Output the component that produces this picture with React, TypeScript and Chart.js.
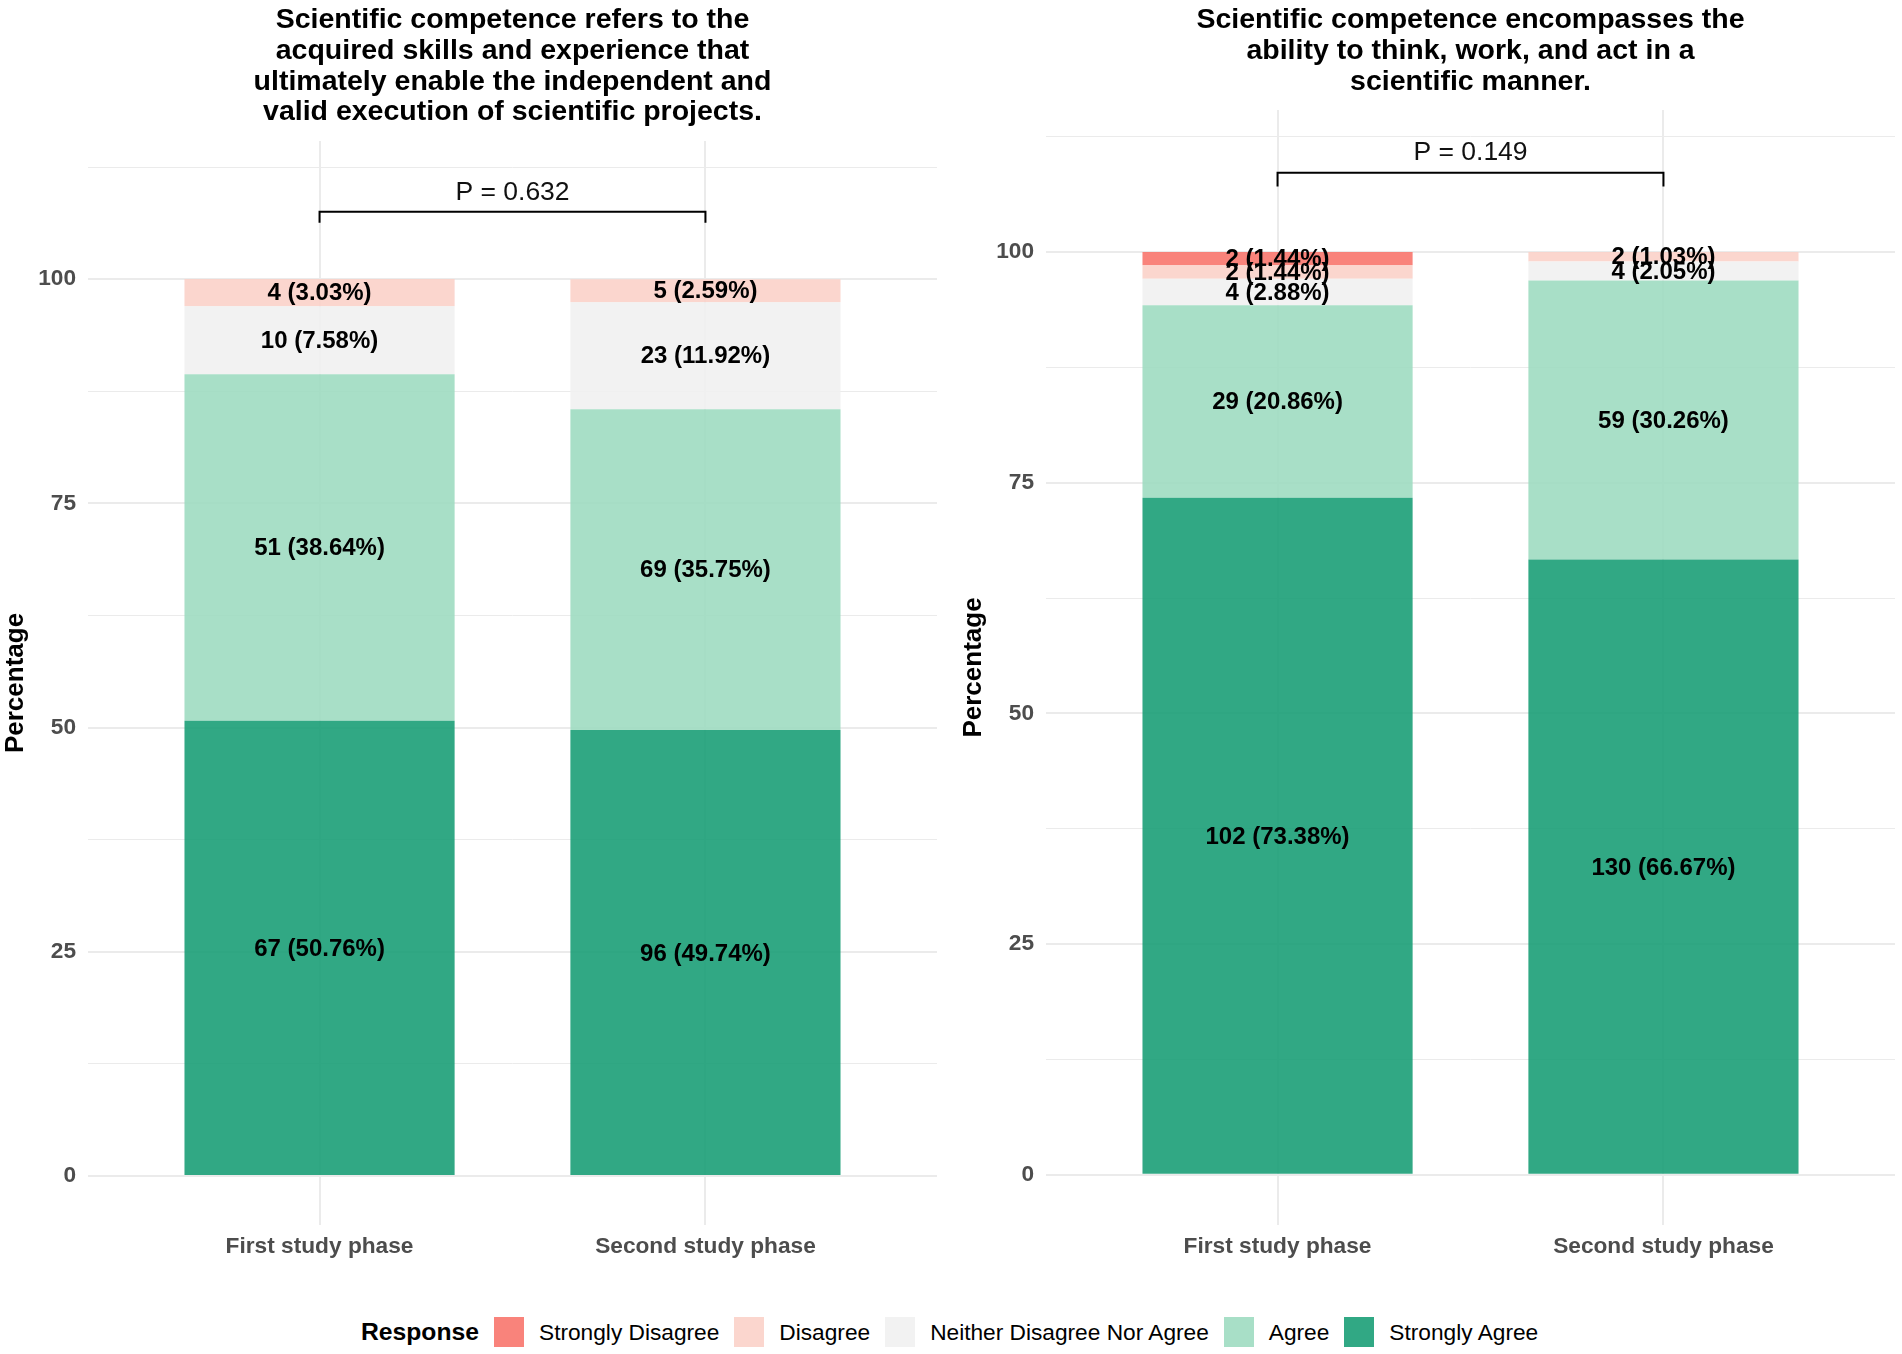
import React, { useEffect, useRef } from "react";
import { Chart, registerables } from "chart.js";

Chart.register(...registerables);

// ---------- data ----------
const categories = ["First study phase", "Second study phase"];
const responses = [
  "Strongly Disagree",
  "Disagree",
  "Neither Disagree Nor Agree",
  "Agree",
  "Strongly Agree",
];
const responseColors = [
  "rgba(248,118,109,0.9)",
  "rgba(251,209,201,0.9)",
  "rgba(241,241,241,0.9)",
  "rgba(159,219,193,0.9)",
  "rgba(27,158,119,0.9)",
];

const leftTitle = [
  "Scientific competence refers to the",
  "acquired skills and experience that",
  "ultimately enable the independent and",
  "valid execution of scientific projects.",
];
const leftPValue = "P = 0.632";
const leftSDCount = [0, 0];
const leftSDPct = [0, 0];
const leftDCount = [4, 5];
const leftDPct = [3.03, 2.59];
const leftNCount = [10, 23];
const leftNPct = [7.58, 11.92];
const leftACount = [51, 69];
const leftAPct = [38.64, 35.75];
const leftSACount = [67, 96];
const leftSAPct = [50.76, 49.74];

const rightTitle = [
  "Scientific competence encompasses the",
  "ability to think, work, and act in a",
  "scientific manner.",
];
const rightPValue = "P = 0.149";
const rightSDCount = [2, 0];
const rightSDPct = [1.44, 0];
const rightDCount = [2, 2];
const rightDPct = [1.44, 1.03];
const rightNCount = [4, 4];
const rightNPct = [2.88, 2.05];
const rightACount = [29, 59];
const rightAPct = [20.86, 30.26];
const rightSACount = [102, 130];
const rightSAPct = [73.38, 66.67];

const yTickValues = [0, 12.5, 25, 37.5, 50, 62.5, 75, 87.5, 100, 112.5];

// ---------- styling ----------
const FONT = '"Liberation Sans", Arial, Helvetica, sans-serif';
const CANVAS_W = 951;
const CANVAS_H = 1290;

type Panel = {
  title: string[];
  pValue: string;
  counts: number[][]; // order: SD, D, N, A, SA
  pcts: number[][];
  padTop: number;
  padLeft: number;
  padRight: number;
  bracketY: number;
  tipY: number;
  pTextY: number;
};

const leftPanel: Panel = {
  title: leftTitle,
  pValue: leftPValue,
  counts: [leftSDCount, leftDCount, leftNCount, leftACount, leftSACount],
  pcts: [leftSDPct, leftDPct, leftNPct, leftAPct, leftSAPct],
  padTop: 139,
  padLeft: 0,
  padRight: 14,
  bracketY: 107.5,
  tipY: 106.3,
  pTextY: 109.6,
};

const rightPanel: Panel = {
  title: rightTitle,
  pValue: rightPValue,
  counts: [rightSDCount, rightDCount, rightNCount, rightACount, rightSACount],
  pcts: [rightSDPct, rightDPct, rightNPct, rightAPct, rightSAPct],
  padTop: 108,
  padLeft: 7,
  padRight: 7,
  bracketY: 108.6,
  tipY: 107.1,
  pTextY: 110.8,
};

function makeOverlay(panel: Panel) {
  return {
    id: "overlay",
    afterDatasetsDraw(chart: any) {
      const ctx = chart.ctx;
      const xs = chart.scales.x;
      const ys = chart.scales.y;
      const area = chart.chartArea;
      ctx.save();
      // title
      ctx.fillStyle = "#000";
      ctx.textAlign = "center";
      ctx.textBaseline = "middle";
      ctx.font = `bold 28.5px ${FONT}`;
      const cx = (area.left + area.right) / 2;
      panel.title.forEach((line, i) => {
        ctx.fillText(line, cx, 18.5 + i * 30.6);
      });
      // bar labels (stacked bottom -> top: SA, A, N, D, SD)
      ctx.font = `bold 24px ${FONT}`;
      for (let c = 0; c < categories.length; c++) {
        let cum = 0;
        for (let r = responses.length - 1; r >= 0; r--) {
          const v = panel.pcts[r][c];
          const n = panel.counts[r][c];
          if (n > 0) {
            const y = ys.getPixelForValue(cum + v / 2);
            const x = xs.getPixelForValue(c + 1);
            ctx.fillText(`${n} (${v.toFixed(2)}%)`, x, y + 1);
          }
          cum += v;
        }
      }
      // significance bracket
      const x1 = xs.getPixelForValue(1);
      const x2 = xs.getPixelForValue(2);
      const yb = ys.getPixelForValue(panel.bracketY);
      const yt = ys.getPixelForValue(panel.tipY);
      ctx.strokeStyle = "#000";
      ctx.lineWidth = 2;
      ctx.beginPath();
      ctx.moveTo(x1, yt);
      ctx.lineTo(x1, yb);
      ctx.lineTo(x2, yb);
      ctx.lineTo(x2, yt);
      ctx.stroke();
      ctx.font = `26.5px ${FONT}`;
      ctx.fillStyle = "#111";
      ctx.fillText(panel.pValue, (x1 + x2) / 2, ys.getPixelForValue(panel.pTextY));
      ctx.restore();
    },
  };
}

function PanelChart({ panel }: { panel: Panel }) {
  const ref = useRef<HTMLCanvasElement | null>(null);
  useEffect(() => {
    if (!ref.current) return;
    const order = [4, 3, 2, 1, 0]; // bottom to top
    const chart = new Chart(ref.current, {
      type: "bar",
      data: {
        datasets: order.map((r) => ({
          label: responses[r],
          data: panel.pcts[r].map((v, i) => ({ x: i + 1, y: v })),
          backgroundColor: responseColors[r],
          borderWidth: 0,
          barPercentage: 0.7,
          categoryPercentage: 1,
        })),
      },
      options: {
        responsive: false,
        maintainAspectRatio: false,
        animation: false,
        devicePixelRatio: 1,
        layout: {
          padding: {
            top: panel.padTop,
            left: panel.padLeft,
            right: panel.padRight,
            bottom: 17,
          },
        },
        plugins: {
          legend: { display: false },
          tooltip: { enabled: false },
          title: { display: false },
        },
        scales: {
          x: {
            type: "linear",
            min: 0.4,
            max: 2.6,
            stacked: true,
            offset: false,
            afterBuildTicks: (s: any) => {
              s.ticks = categories.map((_, i) => ({ value: i + 1 }));
            },
            afterFit: (s: any) => {
              s.height = 50;
            },
            grid: {
              color: "#EBEBEB",
              lineWidth: 2,
              drawTicks: false,
              offset: false,
            },
            border: { display: false },
            ticks: {
              autoSkip: false,
              maxRotation: 0,
              padding: 8,
              color: "#4D4D4D",
              font: { family: FONT, size: 22.7, weight: "bold" },
              callback: (v: any) => categories[Number(v) - 1] ?? "",
            },
          },
          y: {
            type: "linear",
            min: -5.45,
            max: 115.4,
            stacked: true,
            afterBuildTicks: (s: any) => {
              s.ticks = yTickValues.map((v) => ({ value: v }));
            },
            afterFit: (s: any) => {
              s.width = 88;
            },
            grid: {
              color: "#EBEBEB",
              drawTicks: false,
              lineWidth: (ctx: any) =>
                ctx.tick && ctx.tick.value % 25 === 0 ? 2 : 1,
            },
            border: { display: false },
            ticks: {
              autoSkip: false,
              padding: 12,
              color: "#4D4D4D",
              font: { family: FONT, size: 22.7, weight: "bold" },
              callback: (v: any) => (Number(v) % 25 === 0 ? String(v) : ""),
            },
            title: {
              display: true,
              text: "Percentage",
              color: "#000",
              font: { family: FONT, size: 26, weight: "bold" },
              padding: { top: 0, bottom: 0 },
            },
          },
        },
      } as any,
      plugins: [makeOverlay(panel)],
    });
    return () => chart.destroy();
  }, [panel]);
  return (
    <canvas
      ref={ref}
      width={CANVAS_W}
      height={CANVAS_H}
      style={{ width: CANVAS_W, height: CANVAS_H, display: "block" }}
    />
  );
}

function Legend() {
  return (
    <div
      style={{
        position: "absolute",
        left: 361,
        top: 1317,
        height: 30,
        display: "flex",
        alignItems: "center",
        fontFamily: FONT,
        color: "#000",
        whiteSpace: "nowrap",
      }}
    >
      <span style={{ fontWeight: "bold", fontSize: 24.7 }}>Response</span>
      {responses.map((r, i) => (
        <React.Fragment key={r}>
          <span
            style={{
              display: "inline-block",
              width: 30,
              height: 30,
              marginLeft: 15,
              background: responseColors[i],
            }}
          />
          <span style={{ marginLeft: 15, fontSize: 22.7 }}>{r}</span>
        </React.Fragment>
      ))}
    </div>
  );
}

export default function App() {
  return (
    <div
      style={{
        position: "absolute",
        left: 0,
        top: 0,
        width: 1902,
        height: 1354,
        background: "#fff",
        overflow: "hidden",
      }}
    >
      <div style={{ position: "absolute", left: 0, top: 2 }}>
        <PanelChart panel={leftPanel} />
      </div>
      <div style={{ position: "absolute", left: 951, top: 2 }}>
        <PanelChart panel={rightPanel} />
      </div>
      <Legend />
    </div>
  );
}
